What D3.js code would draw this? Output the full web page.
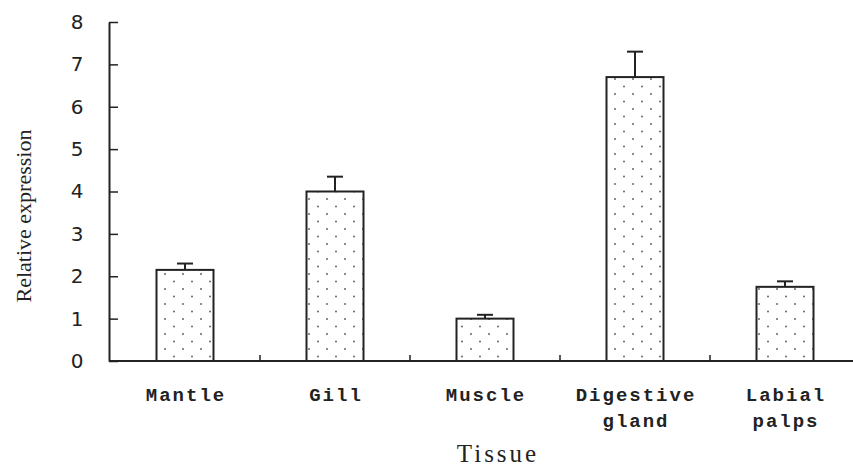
<!DOCTYPE html>
<html>
<head>
<meta charset="utf-8">
<script src="https://cdn.jsdelivr.net/npm/d3@7"></script>
<style>
  body { margin: 0; background: #fff; }
  svg { display: block; }
</style>
</head>
<body>
<svg width="853" height="468"></svg>
<script>
const tissues = [["Mantle"], ["Gill"], ["Muscle"], ["Digestive", "gland"], ["Labial", "palps"]];
const expression = [2.15, 4.0, 1.0, 6.7, 1.75];
const errors = [0.15, 0.35, 0.09, 0.6, 0.13];
const yTicks = [0, 1, 2, 3, 4, 5, 6, 7, 8];

function drawChart()
{
  const svg = d3.select("svg");
  const ink = "#222";

  const keys = tissues.map((t) => t.join(" "));
  const x = d3.scaleBand().domain(keys).range([110, 860]);
  const y = d3.scaleLinear().domain([0, 8]).range([361, 22]);

  // dotted fill like the original
  const pat = svg.append("defs").append("pattern")
    .attr("id", "dots")
    .attr("patternUnits", "userSpaceOnUse")
    .attr("width", 18)
    .attr("height", 15);
  pat.append("circle").attr("cx", 3).attr("cy", 4).attr("r", 1).attr("fill", "#666");
  pat.append("circle").attr("cx", 12).attr("cy", 11.5).attr("r", 1).attr("fill", "#666");

  const barW = 57;

  // error bars
  keys.forEach((k, i) =>
  {
    const cx = x(k) + x.bandwidth() / 2;
    svg.append("line")
      .attr("x1", cx).attr("x2", cx)
      .attr("y1", y(expression[i])).attr("y2", y(expression[i] + errors[i]))
      .attr("stroke", ink).attr("stroke-width", 2);
    svg.append("line")
      .attr("x1", cx - 8).attr("x2", cx + 8)
      .attr("y1", y(expression[i] + errors[i])).attr("y2", y(expression[i] + errors[i]))
      .attr("stroke", ink).attr("stroke-width", 2);
  });

  svg.selectAll("rect.bar")
    .data(keys)
    .join("rect")
    .attr("class", "bar")
    .attr("x", (d) => x(d) + x.bandwidth() / 2 - barW / 2)
    .attr("y", (d, i) => y(expression[i]))
    .attr("width", barW)
    .attr("height", (d, i) => y(0) - y(expression[i]))
    .attr("fill", "url(#dots)")
    .attr("stroke", ink)
    .attr("stroke-width", 2);

  // y axis, ticks pointing inwards
  const axisLeft = d3.axisLeft(y).tickValues(yTicks).tickSizeInner(-9).tickSizeOuter(0).tickPadding(24);
  const gy = svg.append("g").attr("transform", "translate(109,0)").call(axisLeft);
  gy.select(".domain").attr("stroke", ink).attr("stroke-width", 2);
  gy.selectAll(".tick line").attr("stroke", ink).attr("stroke-width", 1.5);
  gy.selectAll(".tick text")
    .attr("font-family", "'DejaVu Sans', sans-serif")
    .attr("font-size", 20)
    .attr("fill", ink)
    .attr("text-anchor", "middle")
    .attr("x", -32);

  // x axis line with small upward ticks between categories
  svg.append("line")
    .attr("x1", 109).attr("x2", 860)
    .attr("y1", y(0)).attr("y2", y(0))
    .attr("stroke", ink).attr("stroke-width", 2);
  keys.slice(1).forEach((k) =>
  {
    svg.append("line")
      .attr("x1", x(k)).attr("x2", x(k))
      .attr("y1", y(0)).attr("y2", y(0) - 6)
      .attr("stroke", ink).attr("stroke-width", 1.5);
  });

  // category labels
  tissues.forEach((lines, i) =>
  {
    const cx = x(keys[i]) + x.bandwidth() / 2;
    const t = svg.append("text")
      .attr("x", cx)
      .attr("y", 401)
      .attr("text-anchor", "middle")
      .attr("font-family", "'Liberation Mono', monospace")
      .attr("font-weight", "bold")
      .attr("font-size", 19)
      .attr("letter-spacing", 2)
      .attr("fill", ink);
    lines.forEach((s, j) =>
    {
      t.append("tspan").attr("x", cx + 1).attr("dy", j === 0 ? 0 : 26).text(s);
    });
  });

  svg.append("text")
    .attr("x", 498)
    .attr("y", 462)
    .attr("text-anchor", "middle")
    .attr("font-family", "'Liberation Serif', serif")
    .attr("font-size", 25)
    .attr("letter-spacing", 3)
    .attr("fill", ink)
    .text("Tissue");

  svg.append("text")
    .attr("transform", "translate(31,216) rotate(-90)")
    .attr("text-anchor", "middle")
    .attr("font-family", "'Liberation Serif', serif")
    .attr("font-size", 22)
    .attr("fill", ink)
    .text("Relative expression");
}

drawChart();
</script>
</body>
</html>
